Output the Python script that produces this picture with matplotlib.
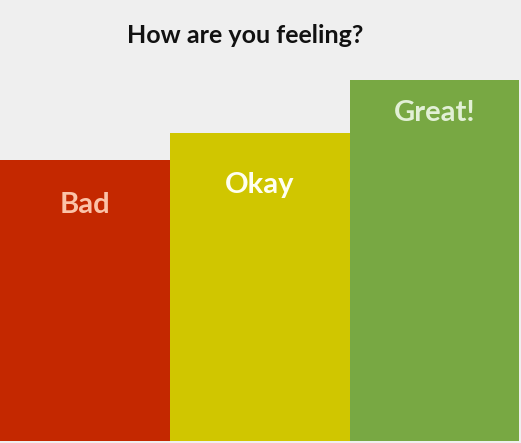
import matplotlib.pyplot as plt
import numpy as np

BG = "#EFEFEF"

# data
moods = ["Bad", "Okay", "Great!"]
scores = [281, 308, 361]
bar_colors = ["#C42800", "#D0C600", "#78A843"]
label_colors = ["#FBC3A8", "#FFFFF0", "#E2F0D6"]

# layout (pixel units)
bar_widths = [170, 180, 169]
label_drop = [53, 60, 41]

fig = plt.figure(figsize=(5.21, 4.43), dpi=100, facecolor=BG)
ax = fig.add_axes([0, 0, 1, 1])
ax.set_facecolor(BG)

left = np.concatenate([[0], np.cumsum(bar_widths)[:-1]])
ax.bar(left, scores, width=bar_widths, color=bar_colors, align="edge")
for i, (name, v) in enumerate(zip(moods, scores)):
    ax.text(left[i] + bar_widths[i] / 2, v - label_drop[i], name,
            ha="center", va="baseline", fontsize=21, fontfamily="Lato",
            fontweight="bold", color=label_colors[i])

ax.set_xlim(0, 521)
ax.set_ylim(-2, 441)
ax.axis("off")

fig.text(0.47, 1 - 43 / 443, "How are you feeling?", ha="center", va="baseline",
         fontsize=18, fontfamily="Lato", fontweight="bold", color="#111111")

fig.savefig("out.png", dpi=100, facecolor=BG)
